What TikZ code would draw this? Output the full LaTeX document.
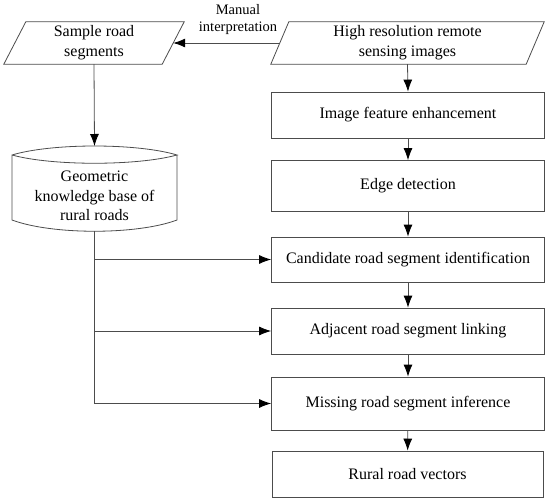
\documentclass[tikz,border=0pt]{standalone}
\usepackage{fontspec}
\setmainfont{Liberation Serif}
\usetikzlibrary{positioning}
\usetikzlibrary{calc}
\usetikzlibrary{arrows.meta}
\definecolor{flowline}{gray}{.3}

\begin{document}
\begin{tikzpicture}[x=1pt,y=-1pt,
    every node/.style={font=\fontsize{16}{20}\selectfont},
    procbox/.style={draw=flowline, line width=.8pt, minimum width=273pt, minimum height=46pt, align=center},
    iobox/.style={minimum height=42pt, align=center},
    outline/.style={draw=flowline, line width=.8pt},
    flow/.style={draw=flowline, line width=.8pt, -{Latex[length=12pt,width=9pt,black]}}]
  \useasboundingbox (0,0) rectangle (550,501);
  % inputs
  \node [iobox, minimum width=158pt] (sample) at (94,43) {Sample road\\segments};
  \node [iobox, minimum width=255pt] (images) at (407.5,43) {High resolution remote\\sensing images};
  \draw[outline] ([xshift=11pt]sample.north west) -- ([xshift=11pt]sample.north east) -- ([xshift=-11pt]sample.south east) -- ([xshift=-11pt]sample.south west) -- cycle;
  \draw[outline] ([xshift=9pt]images.north west) -- ([xshift=9pt]images.north east) -- ([xshift=-9pt]images.south east) -- ([xshift=-9pt]images.south west) -- cycle;
  \node [align=center, font=\fontsize{14.5}{17}\selectfont] (manual) at (238,20) {Manual\\interpretation};
  % knowledge base
  \draw[outline] (12,155) .. controls (52,143) and (137,143) .. (177,155) .. controls (137,166) and (52,166) .. (12,155) -- (12,220) .. controls (52,235) and (137,235) .. (177,220) -- (177,155);
  \node [align=center, font=\fontsize{16}{19.5}\selectfont] (kb) at (94.5,196) {Geometric\\knowledge base of\\rural roads};
  \coordinate (kbtop) at (94.5,146);
  \coordinate (kbbot) at (94.5,231);
  % processing chain
  \node [procbox] (enhance) at (408,115) {Image feature enhancement};
  \node [procbox, minimum height=51pt] (edge) at (408,186) {Edge detection};
  \node [procbox, minimum height=45pt] (candidate) at (408,259.5) {Candidate road segment identification};
  \node [procbox] (linking) at (408,331) {Adjacent road segment linking};
  \node [procbox, minimum height=53pt] (missing) at (408,403.5) {Missing road segment inference};
  \node [procbox, minimum width=271pt] (vectors) at (407.5,474) {Rural road vectors};
  \draw[flow] (images.west) -- (sample.east);
  \draw[flow] (sample.south) -- (kbtop);
  \draw[flow] (images.south) -- (enhance.north);
  \draw[flow] (enhance) -- (edge);
  \draw[flow] (edge) -- (candidate);
  \draw[flow] (candidate) -- (linking);
  \draw[flow] (linking) -- (missing);
  \draw[flow] (missing) -- (vectors);
  \draw[flow] (kbbot) |- (missing.west);
  \draw[flow] (kbbot |- candidate.west) -- (candidate.west);
  \draw[flow] (kbbot |- linking.west) -- (linking.west);
\end{tikzpicture}
\end{document}
